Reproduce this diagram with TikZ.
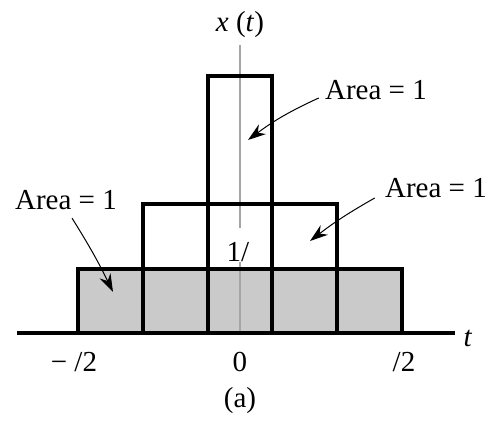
\documentclass[tikz,border=0pt]{standalone}
\usepackage{fontspec}
\setmainfont{Liberation Serif}
\usetikzlibrary{positioning,arrows.meta}
\definecolor{pFill}{RGB}{202,202,202}
\definecolor{pAxis}{RGB}{165,165,165}
\tikzset{
  pulse/.style={draw=black, line width=2.3pt, line join=miter},
  axisline/.style={draw=pAxis, line width=0.9pt},
  lbl/.style={font=\fontsize{14.5}{17}\selectfont, inner sep=1pt},
  tick/.style={lbl, anchor=center},
  pointer/.style={-{Stealth[length=9pt,width=6pt]}, draw=black, line width=0.5pt},
}

\begin{document}
\begin{tikzpicture}[x=0.5pt,y=0.5pt]
  \useasboundingbox (-240,-89) rectangle (249,333);

  %====================== PULSES ======================
  \fill[pFill] (-162,0) rectangle (162,64);
  \draw[axisline] (0,0) -- (0,288);

  \draw[pulse] (-162,0) |- (162,64) -- (162,0);
  \draw[pulse] (-97,0) |- (97,129) -- (97,0);
  \draw[pulse] (-32,0) |- (32,257) -- (32,0);
  \draw[pulse] (-223,0) -- (215,0);

  %====================== LABELS ======================
  \node[lbl] (xt) at (0,308) {\textit{x} (\textit{t})};
  \node[lbl, fill=white, inner xsep=1pt, inner ysep=0pt, text height=17pt,
        text depth=0pt, anchor=south] (height) at (-2,71) {1/};
  \node[tick] (left) at (-166,-29) {− /2};
  \node[tick] (zero) at (0,-29) {0};
  \node[tick] (right) at (164,-29) {/2};
  \node[lbl] (tlab) at (228,-5) {\textit{t}};
  \node[lbl] (cap) at (0,-68) {(a)};

  \node[lbl] (areaTop) at (136,243) {Area = 1};
  \node[lbl] (areaMid) at (196,145) {Area = 1};
  \node[lbl] (areaLow) at (-174,133) {Area = 1};

  %====================== POINTERS ======================
  \coordinate (tipTop) at (8,193);
  \coordinate (tipMid) at (70,92);
  \coordinate (tipLow) at (-127,41);

  \draw[pointer] ([xshift=-2pt,yshift=-4pt]areaTop.west) to[bend right=6] (tipTop);
  \draw[pointer] ([xshift=-4pt,yshift=-5pt]areaMid.west) to[bend right=4] (tipMid);
  \draw[pointer] ([xshift=3pt,yshift=-3pt]areaLow.south) to[bend left=3] (tipLow);

\end{tikzpicture}
\end{document}
